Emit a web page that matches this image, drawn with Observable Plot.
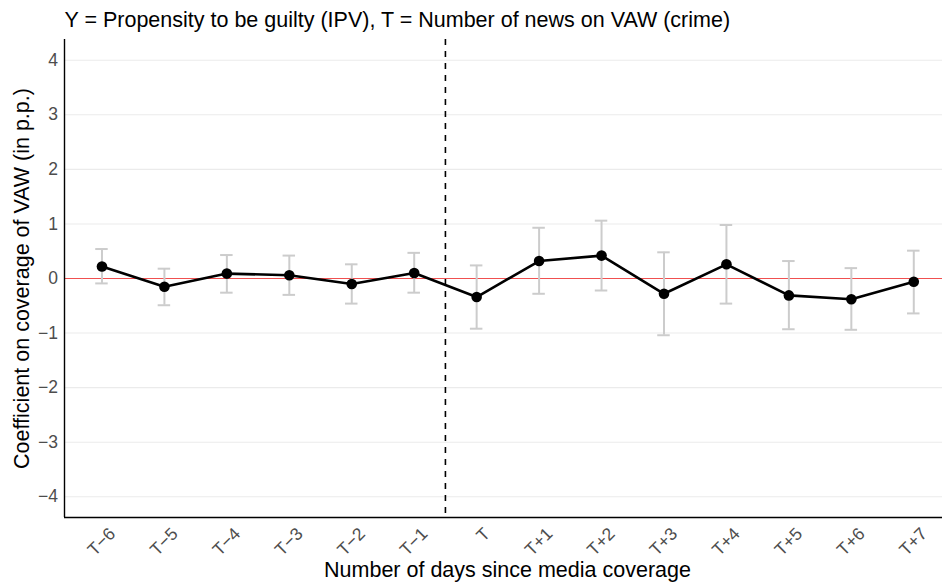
<!DOCTYPE html>
<html><head><meta charset="utf-8">
<script src="https://cdn.jsdelivr.net/npm/d3@7"></script>
<script src="https://cdn.jsdelivr.net/npm/@observablehq/plot@0.6"></script>
<style>body{margin:0;background:#fff} svg{display:block}</style>
</head><body><div id="chart"></div>
<script>
const periods = ["T−6","T−5","T−4","T−3","T−2","T−1","T","T+1","T+2","T+3","T+4","T+5","T+6","T+7"];
const estimates = [0.22,-0.15,0.09,0.06,-0.10,0.10,-0.34,0.32,0.42,-0.28,0.26,-0.31,-0.38,-0.06];
const ciLow  = [-0.09,-0.49,-0.26,-0.30,-0.46,-0.26,-0.92,-0.28,-0.22,-1.04,-0.46,-0.93,-0.94,-0.64];
const ciHigh = [0.54,0.18,0.43,0.42,0.26,0.47,0.24,0.93,1.06,0.48,0.98,0.32,0.19,0.51];
const yTicks = [-4,-3,-2,-1,0,1,2,3,4];
const titleText = "Y = Propensity to be guilty (IPV), T = Number of news on VAW (crime)";
const xTitle = "Number of days since media coverage";
const yTitle = "Coefficient on coverage of VAW (in p.p.)";
const eventBoundary = 5.5; // between T−1 and T

const data = periods.map((p, i) => ({i, period: p, est: estimates[i], lo: ciLow[i], hi: ciHigh[i]}));
const xDomain = [-0.6, 13.46];
const yDomain = [-4.38, 4.38];
const font = "'Liberation Sans', Arial, Helvetica, sans-serif";
const capHalf = 0.1;
const fmt = d => d < 0 ? "−" + Math.abs(d) : String(d);

const chart = Plot.plot({
  width: 942, height: 583,
  marginTop: 39, marginBottom: 66, marginLeft: 64, marginRight: 0,
  style: {fontFamily: font, background: "#fff", overflow: "visible"},
  x: {type: "linear", domain: xDomain, axis: null},
  y: {type: "linear", domain: yDomain, axis: null},
  marks: [
    Plot.gridY({ticks: yTicks, stroke: "#ebebeb", strokeOpacity: 1, strokeWidth: 1.1}),
    Plot.axisY({ticks: yTicks, tickFormat: fmt, tickSize: 0, tickPadding: 6.5, fontSize: 17.5, fill: "#4d4d4d", label: null}),
    Plot.ruleY([0], {stroke: "#f05050", strokeWidth: 1.1}),
    Plot.ruleX([eventBoundary], {stroke: "black", strokeWidth: 1.6, strokeDasharray: "6,6"}),
    Plot.ruleX(data, {x: "i", y1: "lo", y2: "hi", stroke: "#cccccc", strokeWidth: 2}),
    Plot.ruleY(data, {y: "lo", x1: d => d.i - capHalf, x2: d => d.i + capHalf, stroke: "#cccccc", strokeWidth: 2}),
    Plot.ruleY(data, {y: "hi", x1: d => d.i - capHalf, x2: d => d.i + capHalf, stroke: "#cccccc", strokeWidth: 2}),
    Plot.line(data, {x: "i", y: "est", stroke: "black", strokeWidth: 2.6}),
    Plot.dot(data, {x: "i", y: "est", r: 5.3, fill: "black", stroke: null}),
    Plot.ruleX([xDomain[0]], {stroke: "black", strokeWidth: 1.4}),
    Plot.ruleY([yDomain[0]], {stroke: "black", strokeWidth: 1.4}),
    Plot.text(data, {x: "i", text: "period", frameAnchor: "bottom", dx: 10.5, dy: 13.5, rotate: -45,
      textAnchor: "end", lineAnchor: "middle", fontSize: 17.5, fill: "#4d4d4d"}),
    Plot.text([titleText], {frameAnchor: "top-left", textAnchor: "start", lineAnchor: "top", dy: -27.3, fontSize: 21.5, fill: "black"}),
    Plot.text([xTitle], {frameAnchor: "bottom", textAnchor: "middle", lineAnchor: "top", dx: 4, dy: 44.7, fontSize: 21.5, fill: "black"}),
    Plot.text([yTitle], {frameAnchor: "left", textAnchor: "middle", lineAnchor: "top", rotate: -90, dx: -50.7, fontSize: 21.5, fill: "black"})
  ]
});
document.getElementById("chart").appendChild(chart);
</script>
</body></html>
